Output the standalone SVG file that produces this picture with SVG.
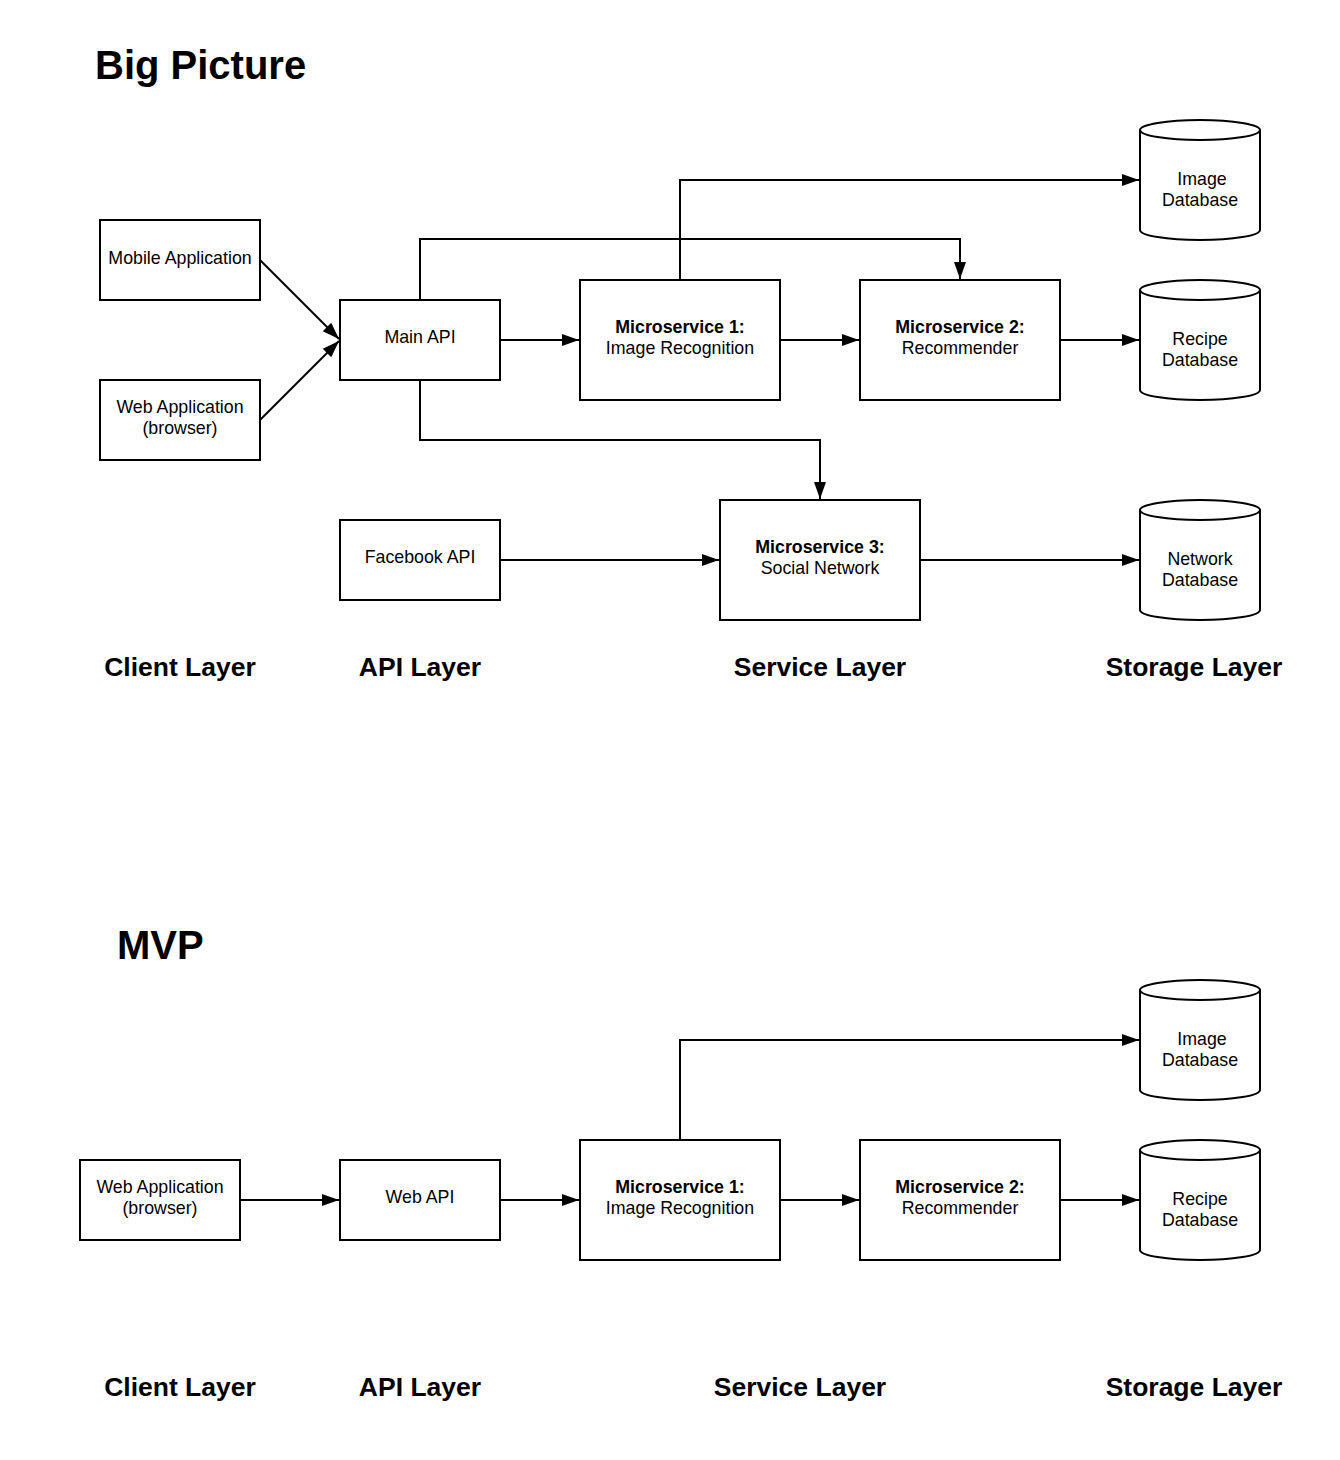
<svg xmlns="http://www.w3.org/2000/svg" width="1340" height="1460" viewBox="0 0 1340 1460">
<defs>
<marker id="arr" markerUnits="userSpaceOnUse" markerWidth="17" markerHeight="14" refX="17" refY="7" orient="auto">
<path d="M0,1 L17,7 L0,13 z" fill="#000"/>
</marker>
<style>
.box{fill:#fff;stroke:#000;stroke-width:2}
.t{font-family:"Liberation Sans",Arial,sans-serif;font-size:17.8px;fill:#000;text-anchor:middle}
.b{font-weight:bold}
.layer{font-family:"Liberation Sans",Arial,sans-serif;font-size:26.5px;font-weight:bold;fill:#000;text-anchor:middle}
.title{font-family:"Liberation Sans",Arial,sans-serif;font-size:40px;font-weight:bold;fill:#000}
.c{fill:none;stroke:#000;stroke-width:2;marker-end:url(#arr)}
</style>
</defs>
<rect width="1340" height="1460" fill="#fff"/>
<text class="title" x="95" y="79">Big Picture</text>
<text class="title" x="117" y="959">MVP</text>

<g id="connectors">
<path class="c" d="M260,260 L339,339"/>
<path class="c" d="M260,420 L339,341"/>
<path class="c" d="M500,340 H579"/>
<path class="c" d="M780,340 H859"/>
<path class="c" d="M1060,340 H1139"/>
<path class="c" d="M680,280 V180 H1139"/>
<path class="c" d="M420,300 V239 H960 V279"/>
<path class="c" d="M420,380 V440 H820 V499"/>
<path class="c" d="M500,560 H719"/>
<path class="c" d="M920,560 H1139"/>
<path class="c" d="M240,1200 H339"/>
<path class="c" d="M500,1200 H579"/>
<path class="c" d="M780,1200 H859"/>
<path class="c" d="M1060,1200 H1139"/>
<path class="c" d="M680,1140 V1040 H1139"/>
</g>

<g id="mobile-app"><rect class="box" x="100" y="220" width="160" height="80"/><text class="t" x="180" y="264">Mobile Application</text></g>
<g id="web-app"><rect class="box" x="100" y="380" width="160" height="80"/><text class="t" x="180" y="413">Web Application</text><text class="t" x="180" y="434">(browser)</text></g>
<g id="main-api"><rect class="box" x="340" y="300" width="160" height="80"/><text class="t" x="420" y="343">Main API</text></g>
<g id="ms1"><rect class="box" x="580" y="280" width="200" height="120"/><text class="t b" x="680" y="333">Microservice 1:</text><text class="t" x="680" y="354">Image Recognition</text></g>
<g id="ms2"><rect class="box" x="860" y="280" width="200" height="120"/><text class="t b" x="960" y="333">Microservice 2:</text><text class="t" x="960" y="354">Recommender</text></g>
<g id="facebook-api"><rect class="box" x="340" y="520" width="160" height="80"/><text class="t" x="420" y="563">Facebook API</text></g>
<g id="ms3"><rect class="box" x="720" y="500" width="200" height="120"/><text class="t b" x="820" y="553">Microservice 3:</text><text class="t" x="820" y="574">Social Network</text></g>
<g id="image-db"><path class="box" d="M1140,130 a60,10 0 0 1 120,0 v100 a60,10 0 0 1 -120,0 z"/><path d="M1140,130 a60,10 0 0 0 120,0" fill="none" stroke="#000" stroke-width="2"/><text class="t" x="1202" y="185">Image</text><text class="t" x="1200" y="206">Database</text></g>
<g id="recipe-db"><path class="box" d="M1140,290 a60,10 0 0 1 120,0 v100 a60,10 0 0 1 -120,0 z"/><path d="M1140,290 a60,10 0 0 0 120,0" fill="none" stroke="#000" stroke-width="2"/><text class="t" x="1200" y="345">Recipe</text><text class="t" x="1200" y="366">Database</text></g>
<g id="network-db"><path class="box" d="M1140,510 a60,10 0 0 1 120,0 v100 a60,10 0 0 1 -120,0 z"/><path d="M1140,510 a60,10 0 0 0 120,0" fill="none" stroke="#000" stroke-width="2"/><text class="t" x="1200" y="565">Network</text><text class="t" x="1200" y="586">Database</text></g>

<text class="layer" x="180" y="676">Client Layer</text>
<text class="layer" x="420" y="676">API Layer</text>
<text class="layer" x="820" y="676">Service Layer</text>
<text class="layer" x="1194" y="676">Storage Layer</text>

<g id="mvp-web-app"><rect class="box" x="80" y="1160" width="160" height="80"/><text class="t" x="160" y="1193">Web Application</text><text class="t" x="160" y="1214">(browser)</text></g>
<g id="mvp-web-api"><rect class="box" x="340" y="1160" width="160" height="80"/><text class="t" x="420" y="1203">Web API</text></g>
<g id="mvp-ms1"><rect class="box" x="580" y="1140" width="200" height="120"/><text class="t b" x="680" y="1193">Microservice 1:</text><text class="t" x="680" y="1214">Image Recognition</text></g>
<g id="mvp-ms2"><rect class="box" x="860" y="1140" width="200" height="120"/><text class="t b" x="960" y="1193">Microservice 2:</text><text class="t" x="960" y="1214">Recommender</text></g>
<g id="mvp-image-db"><path class="box" d="M1140,990 a60,10 0 0 1 120,0 v100 a60,10 0 0 1 -120,0 z"/><path d="M1140,990 a60,10 0 0 0 120,0" fill="none" stroke="#000" stroke-width="2"/><text class="t" x="1202" y="1045">Image</text><text class="t" x="1200" y="1066">Database</text></g>
<g id="mvp-recipe-db"><path class="box" d="M1140,1150 a60,10 0 0 1 120,0 v100 a60,10 0 0 1 -120,0 z"/><path d="M1140,1150 a60,10 0 0 0 120,0" fill="none" stroke="#000" stroke-width="2"/><text class="t" x="1200" y="1205">Recipe</text><text class="t" x="1200" y="1226">Database</text></g>

<text class="layer" x="180" y="1396">Client Layer</text>
<text class="layer" x="420" y="1396">API Layer</text>
<text class="layer" x="800" y="1396">Service Layer</text>
<text class="layer" x="1194" y="1396">Storage Layer</text>
</svg>
